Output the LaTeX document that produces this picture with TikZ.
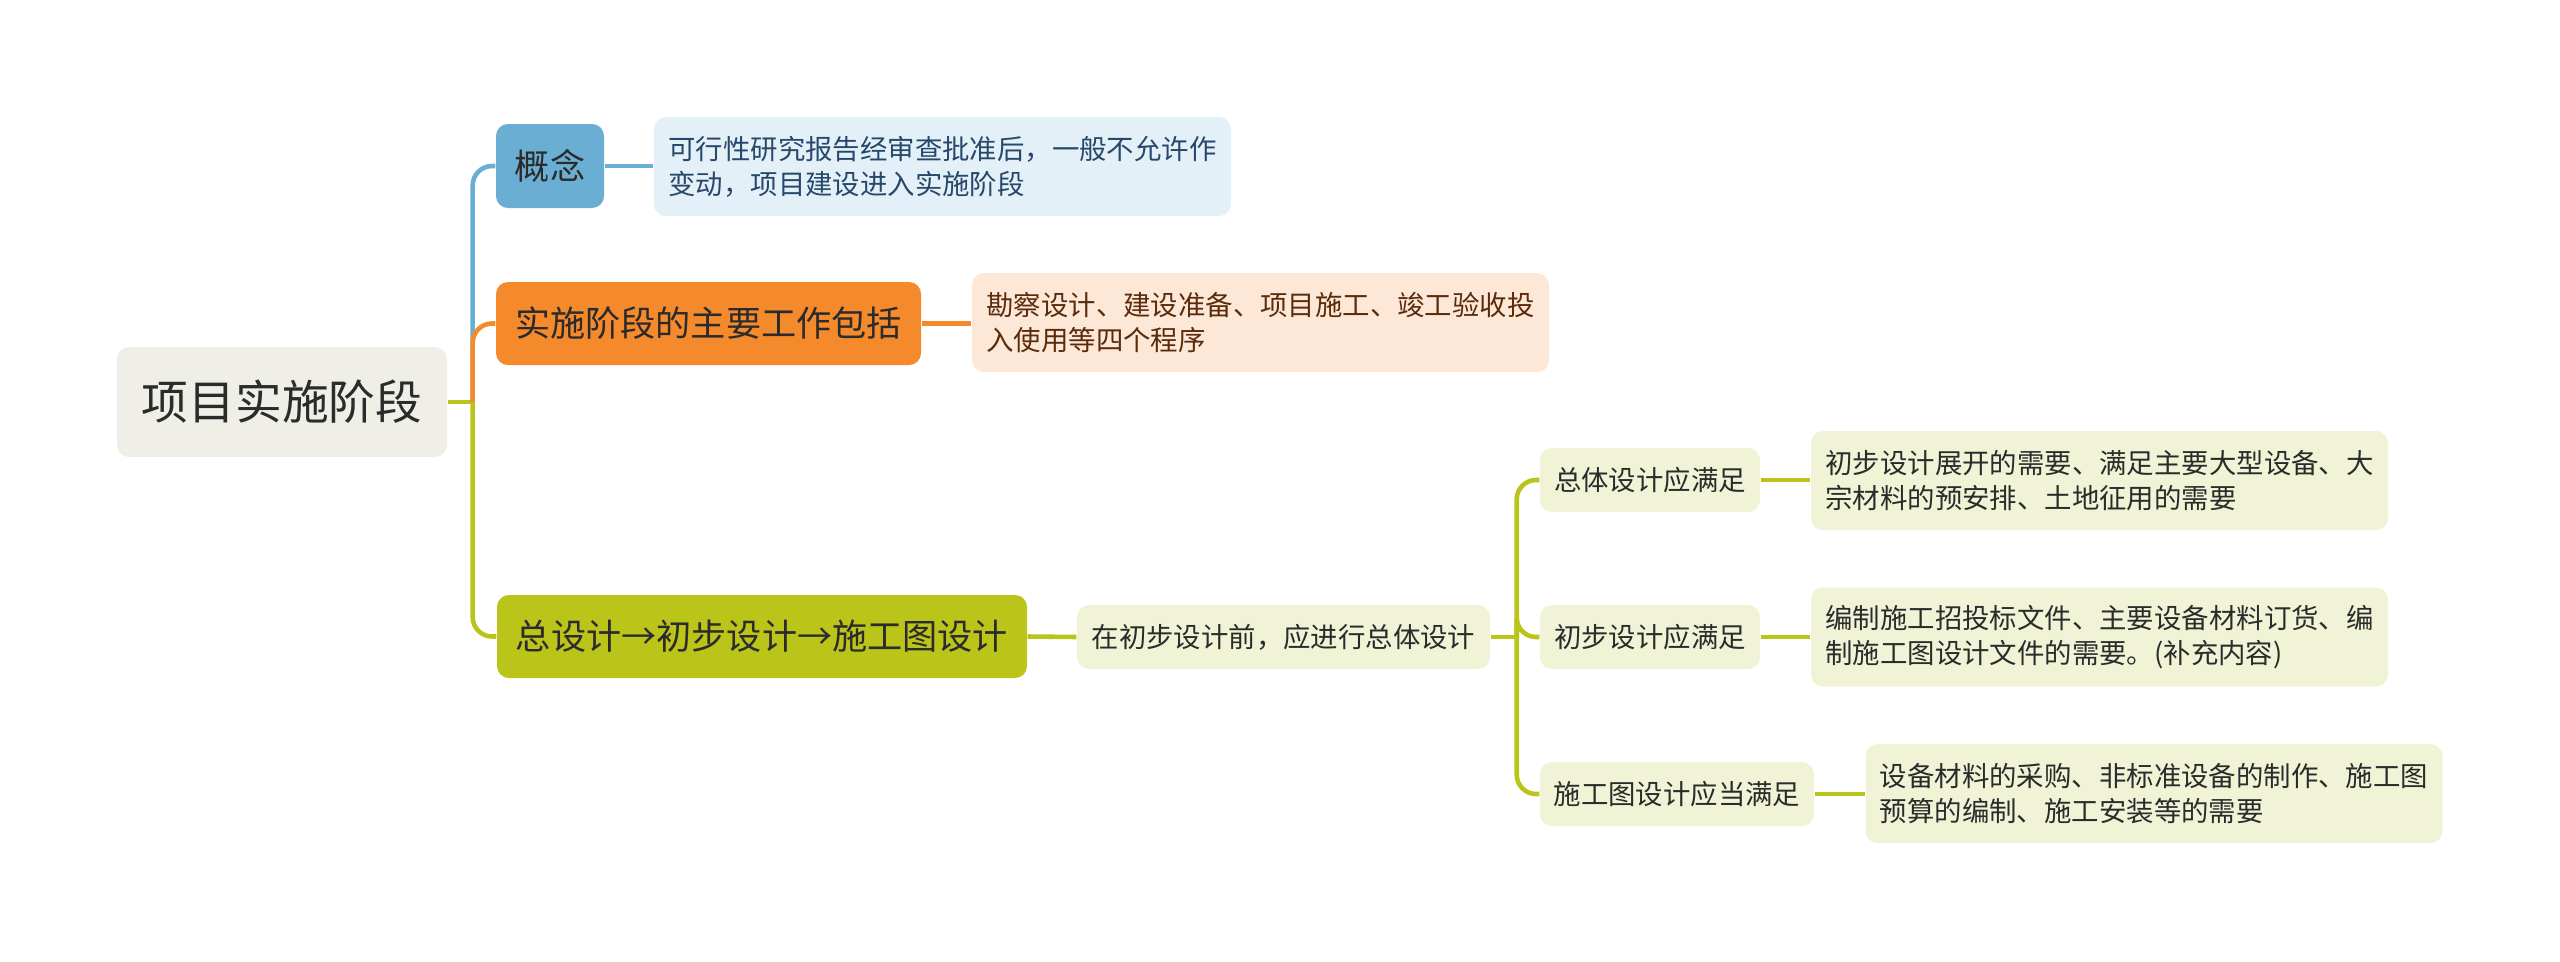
\documentclass[tikz,border=0pt]{standalone}
\usepackage{fontspec}
\setmainfont{Noto Sans CJK SC}
\usetikzlibrary{positioning, calc}
\definecolor{rootfill}{HTML}{EFEFE7}
\definecolor{cblue}{HTML}{6BAED4}
\definecolor{cbluesoft}{HTML}{E3F0F8}
\definecolor{cbluetext}{HTML}{27486A}
\definecolor{corange}{HTML}{F58A2D}
\definecolor{corangesoft}{HTML}{FDE7D7}
\definecolor{corangetext}{HTML}{5B2C0B}
\definecolor{cgreen}{HTML}{BAC419}
\definecolor{cgreensoft}{HTML}{F1F3D6}
\definecolor{inkdark}{HTML}{2B2B2B}
\tikzset{
  rootbox/.style={
    fill=rootfill, rounded corners=3.4pt, inner sep=0pt, text=inkdark,
    minimum width=3.30cm, minimum height=1.10cm, font=\fontsize{13.3}{16}\selectfont
  },
  topic/.style={
    fill=#1, rounded corners=3.4pt, inner sep=0pt, text=inkdark,
    minimum height=0.83cm, font=\fontsize{10}{12}\selectfont
  },
  note/.style={
    fill=#1, rounded corners=3.4pt, inner sep=0pt, align=left,
    minimum width=5.77cm, minimum height=0.99cm, font=\fontsize{7.8}{10}\selectfont
  },
  note/.default=cgreensoft,
  leaf/.style={
    fill=cgreensoft, rounded corners=3.4pt, inner sep=0pt, text=inkdark,
    minimum height=0.64cm, font=\fontsize{7.8}{10}\selectfont
  },
  link/.style={line width=1.3pt, draw=#1, rounded corners=5.5pt}
}
\begin{document}
\begin{tikzpicture}
  \useasboundingbox (0,0) rectangle (25.6,-9.61);
  % root and first level
  \node[rootbox] (root) at (2.82,-4.02) {项目实施阶段};
  \node[topic=cblue, minimum width=1.08cm, minimum height=0.84cm] (concept) at (5.50,-1.66) {概念};
  \node[note=cbluesoft, text=cbluetext] (conceptnote) at (9.425,-1.665)
    {可行性研究报告经审查批准后，一般不允许作\\变动，项目建设进入实施阶段};
  \node[topic=corange, minimum width=4.25cm] (work) at (7.085,-3.235) {实施阶段的主要工作包括};
  \node[note=corangesoft, text=corangetext] (worknote) at (12.605,-3.225)
    {勘察设计、建设准备、项目施工、竣工验收投\\入使用等四个程序};
  \node[topic=cgreen, minimum width=5.30cm] (design) at (7.62,-6.365) {总设计→初步设计→施工图设计};
  % design branch
  \node[leaf, minimum width=4.13cm] (before) at (12.835,-6.37) {在初步设计前，应进行总体设计};
  \node[leaf, minimum width=2.20cm] (overall) at (16.50,-4.80) {总体设计应满足};
  \node[note, text=inkdark] (overallnote) at (20.995,-4.805)
    {初步设计展开的需要、满足主要大型设备、大\\宗材料的预安排、土地征用的需要};
  \node[leaf, minimum width=2.20cm] (prelim) at (16.50,-6.37) {初步设计应满足};
  \node[note, text=inkdark] (prelimnote) at (20.995,-6.37)
    {编制施工招投标文件、主要设备材料订货、编\\制施工图设计文件的需要。(补充内容)};
  \node[leaf, minimum width=2.74cm] (drawing) at (16.77,-7.94) {施工图设计应当满足};
  \node[note, text=inkdark] (drawingnote) at (21.54,-7.935)
    {设备材料的采购、非标准设备的制作、施工图\\预算的编制、施工安装等的需要};
  % connectors
  \coordinate (hub) at ($(root.east)+(0.25,0)$);
  \draw[link=cgreen] (root.east) -- (hub);
  \draw[link=cblue] (hub) |- (concept.west);
  \draw[link=corange] (hub) |- (work.west);
  \draw[link=cgreen] (hub) |- (design.west);
  \draw[link=cblue] (concept.east) -- (conceptnote.west |- concept.east);
  \draw[link=corange] (work.east) -- (worknote.west |- work.east);
  \draw[link=cgreen] (design.east) -- (before.west);
  \coordinate (hubB) at ($(before.east)+(0.26,0)$);
  \draw[link=cgreen] (before.east) -- (hubB);
  \foreach \leafname in {overall, prelim, drawing}
    \draw[link=cgreen] (hubB) |- (\leafname.west);
  \draw[link=cgreen] (overall.east) -- (overallnote.west |- overall.east);
  \draw[link=cgreen] (prelim.east) -- (prelimnote.west |- prelim.east);
  \draw[link=cgreen] (drawing.east) -- (drawingnote.west |- drawing.east);
\end{tikzpicture}
\end{document}
